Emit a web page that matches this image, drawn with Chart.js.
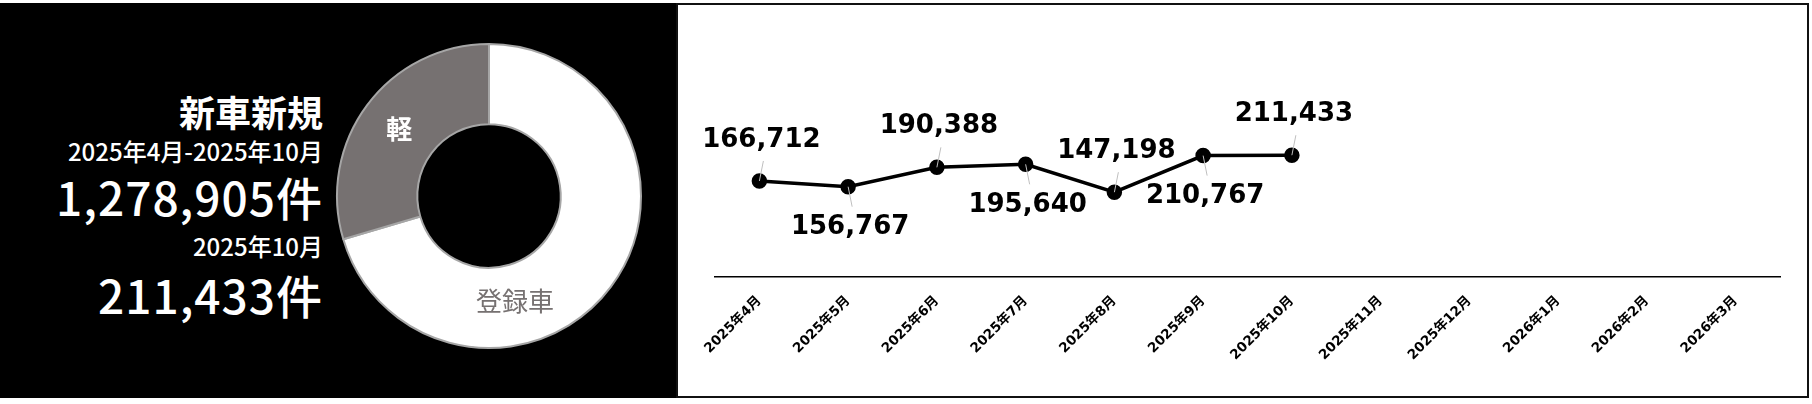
<!DOCTYPE html>
<html lang="ja">
<head>
<meta charset="utf-8">
<script src="https://cdn.jsdelivr.net/npm/chart.js@4.4.1/dist/chart.umd.min.js"></script>
<style>
  body { margin: 0; width: 1812px; height: 404px; background: #fff; position: relative; overflow: hidden;
         font-family: 'Noto Sans CJK JP', sans-serif; }
  #left { position: absolute; left: 0; top: 3px; width: 676px; height: 395px; background: #000; }
  #right { position: absolute; left: 676px; top: 3px; width: 1133px; height: 395px; box-sizing: border-box;
           border: 2px solid #111; background: #fff; }
  .txt { position: absolute; right: 1489px; color: #fff; white-space: nowrap; line-height: 1; font-weight: 500; }
  #donut { position: absolute; left: 329px; top: 36px; }
  #line { position: absolute; left: 678px; top: 5px; }
</style>
</head>
<body>
<div id="left"></div>
<div id="right"></div>

<div class="txt" id="title" style="top:93px;font-size:36px;font-weight:bold;"></div>
<div class="txt" id="period" style="top:139px;font-size:24px;"></div>
<div class="txt" id="total" style="top:173px;font-size:46px;letter-spacing:1px;"></div>
<div class="txt" id="month" style="top:234px;font-size:24px;"></div>
<div class="txt" id="monthTotal" style="top:271px;font-size:46px;letter-spacing:1px;"></div>

<canvas id="donut" width="320" height="320"></canvas>
<canvas id="line" width="1129" height="391"></canvas>

<script>
// 月別 新車新規件数
const months = ['2025年4月', '2025年5月', '2025年6月', '2025年7月', '2025年8月', '2025年9月',
                '2025年10月', '2025年11月', '2025年12月', '2026年1月', '2026年2月', '2026年3月'];
const monthly = [166712, 156767, 190388, 195640, 147198, 210767, 211433, null, null, null, null, null];

// 登録車 / 軽 の内訳（期間累計）
const kinds = ['登録車', '軽'];
const kindCounts = [900350, 378555];

const title = '新車新規';
const periodText = '2025年4月-2025年10月';
const lastMonthText = '2025年10月';

const fmt = v => v.toLocaleString('en-US');
const total = monthly.reduce((s, v) => s + (v || 0), 0);
const latest = monthly.filter(v => v != null).pop();

document.getElementById('title').textContent = title;
document.getElementById('period').textContent = periodText;
document.getElementById('total').textContent = fmt(total) + '件';
document.getElementById('month').textContent = lastMonthText;
document.getElementById('monthTotal').textContent = fmt(latest) + '件';

const labelFont = "'DejaVu Sans', 'Noto Sans CJK JP', sans-serif";

// ドーナツの中のラベル
const sliceLabels = {
  id: 'sliceLabels',
  afterDatasetsDraw(chart) {
    const ctx = chart.ctx;
    const meta = chart.getDatasetMeta(0);
    const where = [0.655, 0.5];
    const colors = ['#767171', '#ffffff'];
    const weights = ['normal', 'bold'];
    ctx.save();
    ctx.textAlign = 'center';
    ctx.textBaseline = 'middle';
    meta.data.forEach((arc, i) => {
      const p = arc.getProps(['x', 'y', 'startAngle', 'endAngle', 'innerRadius', 'outerRadius'], true);
      const a = p.startAngle + (p.endAngle - p.startAngle) * where[i];
      const r = (p.innerRadius + p.outerRadius) / 2 - (i === 0 ? 4 : 0);
      ctx.font = weights[i] + " 26px 'Noto Sans CJK JP', sans-serif";
      ctx.fillStyle = colors[i];
      ctx.fillText(kinds[i], p.x + Math.cos(a) * r, p.y + Math.sin(a) * r);
    });
    ctx.restore();
  }
};

new Chart(document.getElementById('donut'), {
  type: 'doughnut',
  data: {
    labels: kinds,
    datasets: [{
      data: kindCounts,
      backgroundColor: ['#ffffff', '#767171'],
      borderColor: '#a6a6a6',
      borderWidth: 2
    }]
  },
  options: {
    responsive: false,
    animation: false,
    radius: 152,
    cutout: 75,
    plugins: { legend: { display: false }, tooltip: { enabled: false } }
  },
  plugins: [sliceLabels]
});

// 折れ線の値ラベル（上下交互、引き出し線つき）
const pointLabels = {
  id: 'pointLabels',
  afterDatasetsDraw(chart) {
    const ctx = chart.ctx;
    const meta = chart.getDatasetMeta(0);
    ctx.save();
    ctx.font = 'bold 26px ' + labelFont;
    ctx.textAlign = 'center';
    ctx.textBaseline = 'middle';
    meta.data.forEach((pt, i) => {
      const v = monthly[i];
      if (v == null) return;
      const dir = i % 2 === 0 ? -1 : 1;
      ctx.strokeStyle = '#bfbfbf';
      ctx.lineWidth = 1;
      ctx.beginPath();
      ctx.moveTo(pt.x, pt.y);
      ctx.lineTo(pt.x + 4, pt.y + dir * 20);
      ctx.stroke();
      ctx.fillStyle = '#000';
      ctx.fillText(fmt(v), pt.x + 2, pt.y + dir * 41);
    });
    ctx.restore();
  }
};

new Chart(document.getElementById('line'), {
  type: 'line',
  data: {
    labels: months,
    datasets: [{
      data: monthly,
      borderColor: '#000',
      borderWidth: 3.5,
      pointRadius: 6,
      pointBackgroundColor: '#000',
      pointBorderColor: '#000',
      tension: 0
    }]
  },
  options: {
    responsive: false,
    animation: false,
    layout: { padding: { top: 128, left: 37, right: 27, bottom: 0 } },
    scales: {
      x: {
        offset: true,
        grid: { display: false },
        border: { display: true, color: '#000', width: 1.5 },
        ticks: {
          color: '#000',
          font: { family: labelFont, size: 13.5, weight: 'bold' },
          minRotation: 45,
          maxRotation: 45,
          autoSkip: false,
          padding: 8
        },
        afterFit(scale) {
          scale.height = 119;
          scale.paddingLeft = 0;
          scale.paddingRight = 0;
        }
      },
      y: { display: false, min: 0, max: 250000 }
    },
    plugins: { legend: { display: false }, tooltip: { enabled: false } }
  },
  plugins: [pointLabels]
});
</script>
</body>
</html>
